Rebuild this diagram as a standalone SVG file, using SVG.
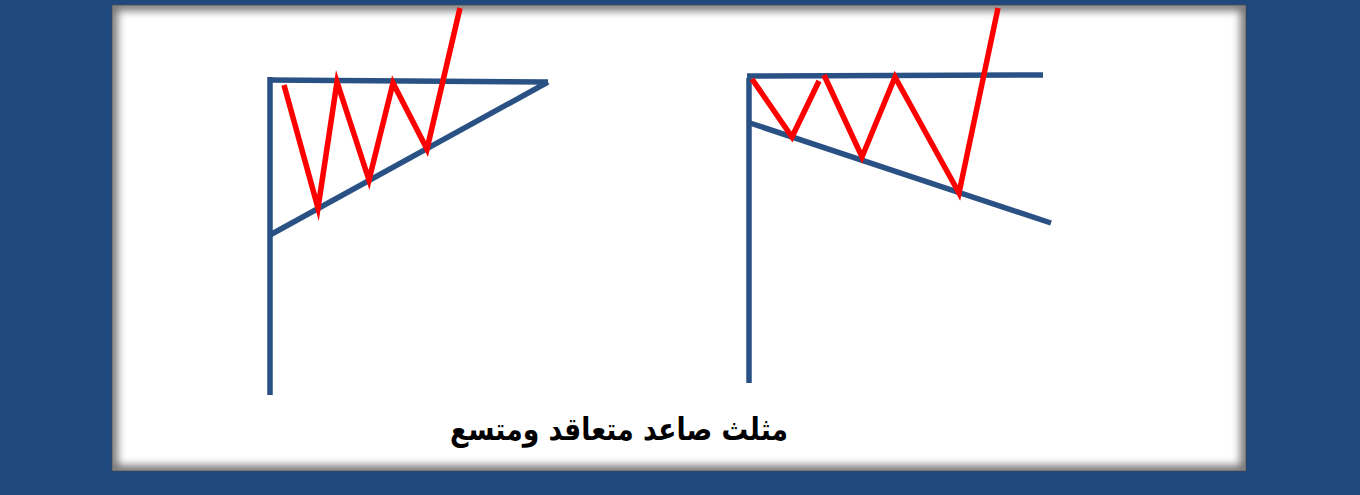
<svg xmlns="http://www.w3.org/2000/svg" width="1360" height="495" viewBox="0 0 1360 495">
<style>
.ax{stroke:#2a5183;stroke-width:5.5;fill:none;stroke-linecap:butt}
.pr{stroke:#ff0000;stroke-width:5.5;fill:none;stroke-linejoin:miter;stroke-miterlimit:10}
.t{font-family:"DejaVu Sans",sans-serif;font-weight:bold;font-size:31px;fill:#000}
</style>
<defs>
<clipPath id="pc"><rect x="112" y="5" width="1134" height="466"/></clipPath>
<filter id="bl" x="-5%" y="-5%" width="110%" height="110%"><feGaussianBlur stdDeviation="4.5"/></filter>
</defs>
<rect x="0" y="0" width="1360" height="495" fill="#1f497c"/>
<g id="panel">
<rect x="112" y="5" width="1134" height="466" fill="#ffffff"/>
<g clip-path="url(#pc)">
<rect x="112" y="5" width="1134" height="466" fill="none" stroke="#707070" stroke-width="11" filter="url(#bl)"/>
</g>
<rect x="112" y="5" width="1134" height="466" fill="none" stroke="#444" stroke-width="1" stroke-opacity="0.6"/>
</g>
<g id="connectors">
<g id="left-triangle">
<line class="ax" x1="270" y1="77" x2="270" y2="395"/>
<line class="ax" x1="268" y1="80" x2="548" y2="82"/>
<line class="ax" x1="270" y1="235" x2="548" y2="82"/>
<polyline class="pr" points="284,85 318,208 337,82 369,180 393,83 427,149 460,8"/>
</g>
<g id="right-triangle">
<line class="ax" x1="749" y1="78" x2="749" y2="383"/>
<line class="ax" x1="747" y1="76" x2="1043" y2="75"/>
<line class="ax" x1="750" y1="123" x2="1051" y2="223"/>
<polyline class="pr" points="752,79 792,137 819,81"/>
<polyline class="pr" points="824,75 862,157 895,77 959,193 998,8"/>
</g>
</g>
<g id="caption">
<text class="t" x="619" y="440" text-anchor="middle" direction="rtl" textLength="338" lengthAdjust="spacingAndGlyphs">مثلث صاعد متعاقد ومتسع</text>
</g>
</svg>
